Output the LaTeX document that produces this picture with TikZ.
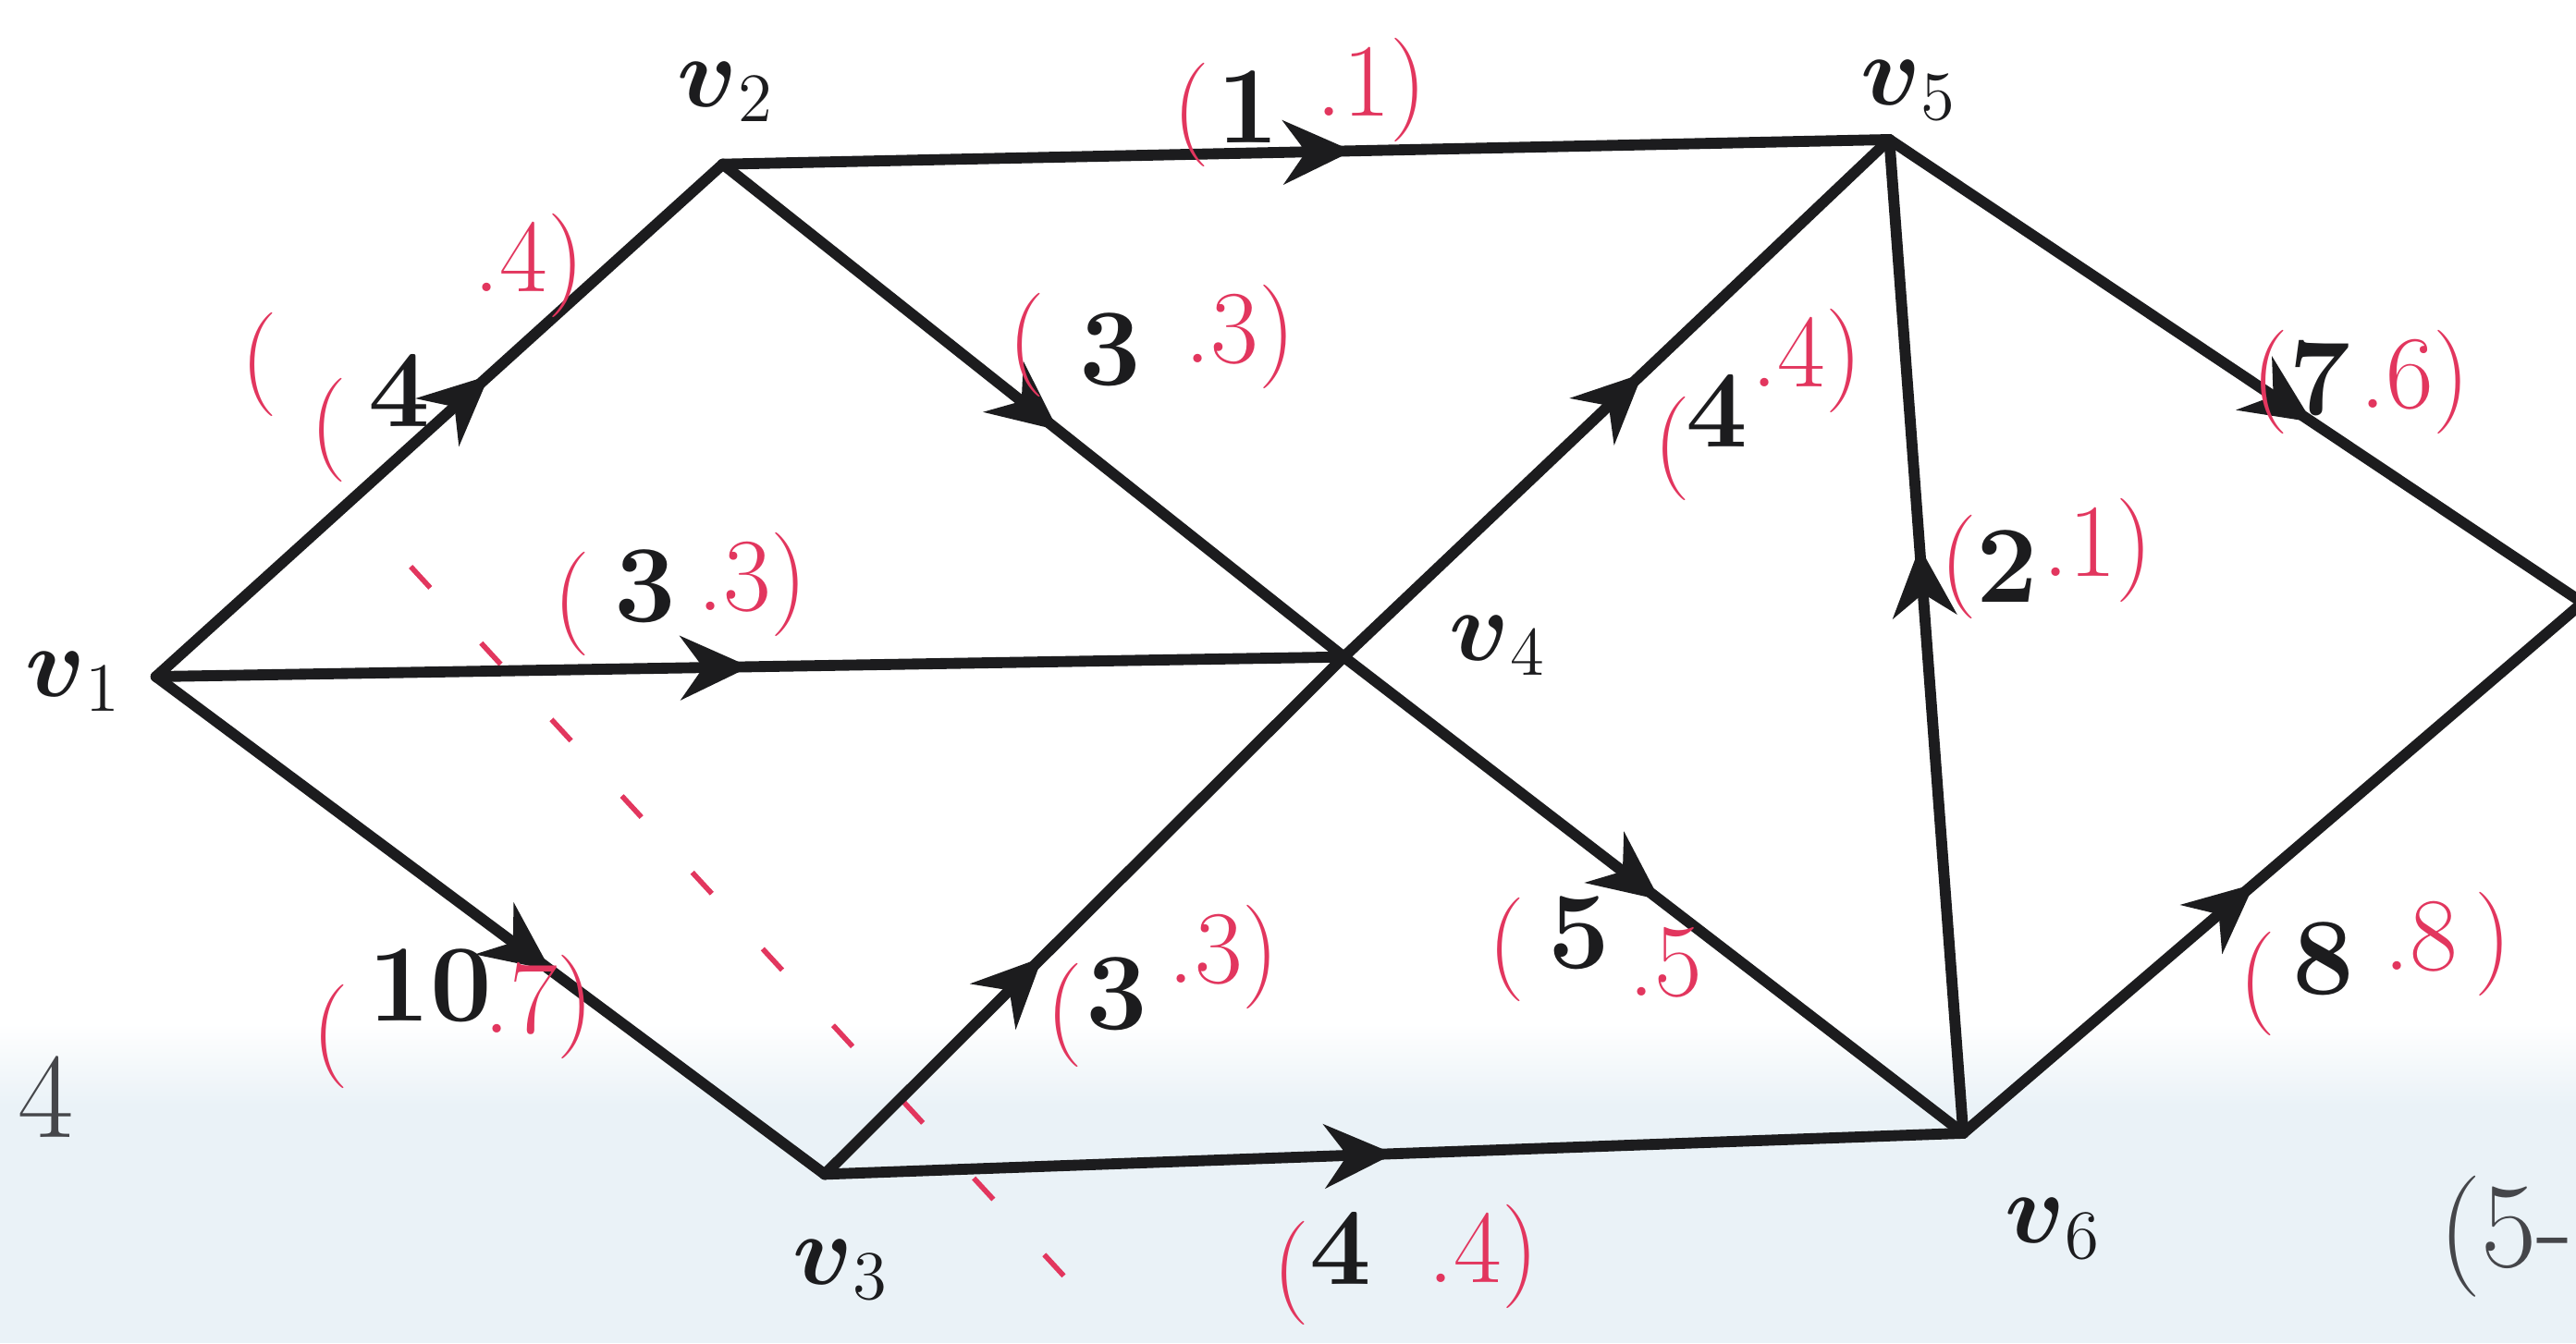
\documentclass[tikz,border=0pt]{standalone}
\usepackage{amsmath}
\usetikzlibrary{arrows.meta,decorations.markings,positioning}
\definecolor{ink}   {HTML}{1C1C1E}
\definecolor{pen}   {HTML}{E2365E}
\definecolor{scan}  {HTML}{EAF2F7}
\definecolor{pencil}{HTML}{45464A}
\tikzset{
  % --- nodes
  vlab/.style  = {font=\fontsize{18}{20}\selectfont, text=ink, inner sep=1pt},
  capnum/.style= {font=\fontsize{19}{21}\selectfont\bfseries, text=ink, inner sep=1pt},
  fl/.style    = {font=\fontsize{18}{20}\selectfont, text=pen, inner sep=1pt},
  frag/.style  = {font=\fontsize{21}{23}\selectfont, text=pencil, inner sep=1pt},
  % --- edges
  e/.style     = {color=ink, line width=1.9pt, line cap=round, postaction={decorate},
                  decoration={markings, mark=at position #1 with
                  {\arrow{Stealth[length=12pt,width=11pt]}}}},
  cutline/.style = {draw=pen, line width=0.9pt, dash pattern=on 5pt off 13pt},
}
\begin{document}
\begin{tikzpicture}
  \useasboundingbox (0,0) rectangle (15.68,8.18);
  \fill[white] (0,0) rectangle (15.68,8.18);
  \fill[scan] (0,0) rectangle (15.68,1.45);
  \shade[top color=white, bottom color=scan] (0,1.45) rectangle (15.68,1.95);

  % vertices
  \coordinate (v1) at (0.95,4.06);
  \coordinate (v2) at (4.40,7.18);
  \coordinate (v3) at (5.02,1.03);
  \coordinate (v4) at (8.18,4.18);
  \coordinate (v5) at (11.50,7.33);
  \coordinate (v6) at (11.95,1.28);
  \coordinate (vt) at (15.72,4.51);

  % cut
  \coordinate (k1) at (2.50,4.73);
  \coordinate (k2) at (6.55,0.33);
  \draw[cutline] (k1) -- (k2);

  % arcs
  \draw[e=0.59] (v1) -- (v2);
  \draw[e=0.50] (v1) -- (v4);
  \draw[e=0.59] (v1) -- (v3);
  \draw[e=0.54] (v2) -- (v5);
  \draw[e=0.54] (v2) -- (v4);
  \draw[e=0.55] (v4) -- (v5);
  \draw[e=0.42] (v3) -- (v4);
  \draw[e=0.51] (v4) -- (v6);
  \draw[e=0.50] (v3) -- (v6);
  \draw[e=0.59] (v6) -- (v5);
  \draw[e=0.61] (v5) -- (vt);
  \draw[e=0.47] (v6) -- (vt);

  % vertex names
  \node[vlab] (lv1) at (0.45,4.03) {$\boldsymbol{v}_1$};
  \node[vlab] (lv2) at (4.42,7.62) {$\boldsymbol{v}_2$};
  \node[vlab] (lv3) at (5.12,0.45) {$\boldsymbol{v}_3$};
  \node[vlab] (lv4) at (9.12,4.25) {$\boldsymbol{v}_4$};
  \node[vlab] (lv5) at (11.62,7.63) {$\boldsymbol{v}_5$};
  \node[vlab] (lv6) at (12.50,0.70) {$\boldsymbol{v}_6$};

  % capacities and flows
  \node[capnum] (c12) at (2.43,5.80) {4};
  \node[fl] (o12) at (2.00,5.56) {(};
  \node[fl] (f12) at (3.22,6.56) {.4)};
  \node[fl] (x12) at (1.58,5.96) {(};

  \node[capnum] (c14) at (3.93,4.61) {3};
  \node[fl] (o14) at (3.48,4.50) {(};
  \node[fl] (f14) at (4.58,4.62) {.3)};

  \node[capnum] (c13) at (2.62,2.18) {10};
  \node[fl] (o13) at (2.01,1.87) {(};
  \node[fl] (f13) at (3.28,2.05) {.7)};

  \node[capnum] (c25) at (7.60,7.53) {1};
  \node[fl] (o25) at (7.25,7.48) {(};
  \node[fl] (f25) at (8.35,7.63) {.1)};

  \node[capnum] (c24) at (6.76,6.05) {3};
  \node[fl] (o24) at (6.25,6.08) {(};
  \node[fl] (f24) at (7.55,6.13) {.3)};

  \node[capnum] (c45) at (10.45,5.68) {4};
  \node[fl] (o45) at (10.18,5.45) {(};
  \node[fl] (f45) at (11.00,5.98) {.4)};

  \node[capnum] (c65) at (12.22,4.73) {2};
  \node[fl] (o65) at (11.92,4.73) {(};
  \node[fl] (f65) at (12.77,4.83) {.1)};

  \node[capnum] (c5t) at (14.12,5.88) {7};
  \node[fl] (o5t) at (13.82,5.85) {(};
  \node[fl] (f5t) at (14.70,5.85) {.6)};

  \node[capnum] (c34) at (6.80,2.13) {3};
  \node[fl] (o34) at (6.48,2.00) {(};
  \node[fl] (f34) at (7.45,2.35) {.3)};

  \node[capnum] (c46) at (9.61,2.50) {5};
  \node[fl] (o46) at (9.17,2.40) {(};
  \node[fl] (f46) at (10.14,2.32) {.5};

  \node[capnum] (c36) at (8.16,0.58) {4};
  \node[fl] (o36) at (7.86,0.43) {(};
  \node[fl] (f36) at (9.03,0.53) {.4)};

  \node[capnum] (c6t) at (14.14,2.34) {8};
  \node[fl] (o6t) at (13.74,2.19) {(};
  \node[fl] (f6t) at (14.90,2.43) {.8\,)};

  % page fragments
  \node[frag] (g1) at (0.28,1.50) {4};
  \node[frag, anchor=west] (g2) at (14.80,0.65) {(5-};
\end{tikzpicture}
\end{document}
